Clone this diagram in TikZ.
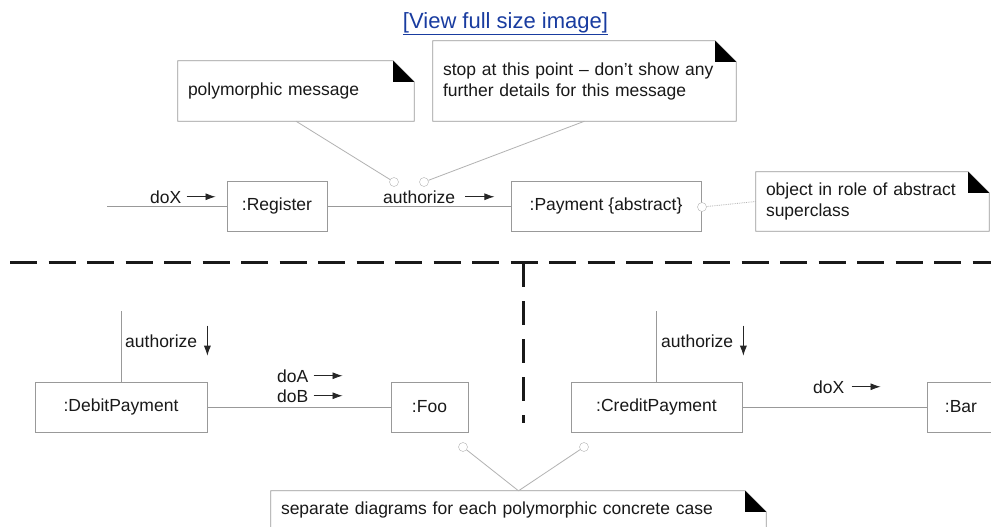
\documentclass[tikz,border=0pt]{standalone}
\usepackage{fontspec}
\setmainfont{Liberation Sans}
\usetikzlibrary{arrows.meta}
\definecolor{linegray}{gray}{0.6}
\definecolor{lightline}{gray}{0.7}
\definecolor{textgray}{gray}{0.1}
\definecolor{linkblue}{RGB}{25,60,160}
\tikzset{
  obj/.style={draw=linegray,minimum height=50pt,inner sep=0pt,text=textgray},
  note/.style={align=left,inner xsep=10pt,inner ysep=0pt,text=textgray},
  msg/.style={anchor=base west,inner sep=0pt,text=textgray},
  flow/.style={-{Latex[length=10pt,width=7pt]},line width=0.8pt,black!85},
  hook/.style={circle,draw=lightline,fill=white,minimum size=9pt,inner sep=0pt},
  wire/.style={draw=linegray,line width=0.8pt},
  link/.style={draw=lightline,line width=0.8pt},
  divider/.style={line width=3pt,black!90,dash pattern=on 27pt off 11.5pt}
}
\begin{document}
\begin{tikzpicture}[x=1pt,y=-1pt,font=\fontsize{17.5pt}{21pt}\selectfont]
\clip (0,0) rectangle (991,527);
\fill[white] (0,0) rectangle (991,527);
\node[text=linkblue,font=\fontsize{22pt}{26pt}\selectfont] (full) at (505.5,24) {\underline{[View full size image]}};
\node[note,text width=216pt,minimum height=60pt] (pm) at (296,91) {polymorphic message};
\node[note,text width=283pt,minimum height=80pt] (stop) at (584.5,81) {stop at this point -- don't show any\\further details for this message};
\node[note,text width=213pt,minimum height=59pt] (role) at (872.5,201.5) {object in role of abstract\\superclass};
\node[note,text width=475pt,minimum height=38pt] (sep) at (518.5,510) {separate diagrams for each polymorphic concrete case};
\foreach \n in {pm,stop,role,sep} {
  \draw[linegray,line width=0.8pt] (\n.south west) -- (\n.north west) -- ([xshift=-21pt]\n.north east) -- ([yshift=-21pt]\n.north east) -- (\n.south east) -- cycle;
  \fill ([xshift=-21pt]\n.north east) -- ([xshift=-21pt,yshift=-21pt]\n.north east) -- ([yshift=-21pt]\n.north east) -- cycle;
}
\node[obj,minimum width=100pt] (reg) at (277,206) {:Register};
\node[obj,minimum width=190pt] (pay) at (606,206) {:Payment \{abstract\}};
\node[obj,minimum width=172pt] (debit) at (121,407) {:DebitPayment};
\node[obj,minimum width=77pt] (foo) at (429.5,407) {:Foo};
\node[obj,minimum width=171pt] (credit) at (656.5,407) {:CreditPayment};
\node[obj,minimum width=68pt] (bar) at (961,407) {:Bar};
\coordinate (start) at (107,206);
\coordinate (dtop) at (121,311);
\coordinate (ctop) at (656.5,311);
\draw[wire] (start) -- (reg.west);
\draw[wire] (reg.east) -- (pay.west);
\draw[wire] (dtop) -- (debit.north);
\draw[wire] (ctop) -- (credit.north);
\draw[wire] (debit.east) -- (foo.west);
\draw[wire] (credit.east) -- (bar.west);
\node[msg] (dox) at (150,203) {doX};
\node[msg] (auth) at (383,203) {authorize};
\node[msg] (authd) at (125,347) {authorize};
\node[msg] (doa) at (277,382) {doA};
\node[msg] (dob) at (277,402) {doB};
\node[msg] (authc) at (661,347) {authorize};
\node[msg] (doxc) at (813,393) {doX};
\draw[flow] ([xshift=5pt]dox.east) -- ++(29,0);
\draw[flow] ([xshift=10pt]auth.east) -- ++(29,0);
\draw[flow] ([xshift=5pt]doa.east) -- ++(29,0);
\draw[flow] ([xshift=5pt]dob.east) -- ++(29,0);
\draw[flow] ([xshift=7pt]doxc.east) -- ++(29,0);
\draw[flow] ([xshift=10pt,yshift=15pt]authd.east) -- ++(0,30);
\draw[flow] ([xshift=10pt,yshift=15pt]authc.east) -- ++(0,30);
\node[hook] (h1) at (394,182) {};
\node[hook] (h2) at (424,182) {};
\node[hook] (h3) at (702,207) {};
\node[hook] (h4) at (463,447) {};
\node[hook] (h5) at (584,447) {};
\draw[link] (pm.south) -- (h1);
\draw[link] (stop.south) -- (h2);
\draw[link,densely dotted] (h3) -- (role.west);
\draw[link] (h4) -- (sep.north);
\draw[link] (h5) -- (sep.north);
\draw[divider] (10,262) -- (991,262);
\draw[divider,dash pattern=on 24pt off 14pt] (523,263) -- (523,423);
\end{tikzpicture}
\end{document}
